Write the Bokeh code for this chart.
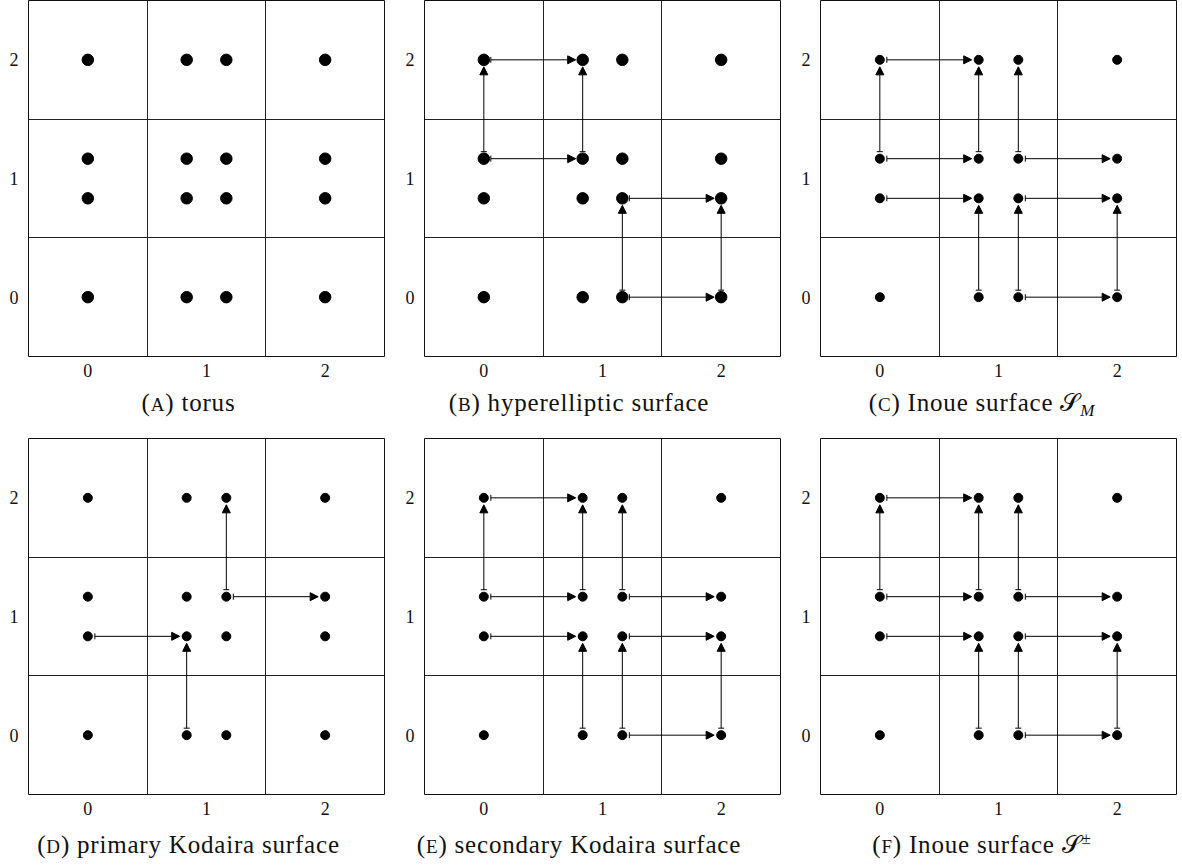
from bokeh.plotting import figure
from bokeh.models import Arrow, NormalHead, TeeHead, ColumnDataSource, FixedTicker, Div
from bokeh.layouts import row, column
from bokeh.embed import file_html
from bokeh.resources import INLINE
import math

# ---- data -------------------------------------------------------------
tick_values = [0, 1, 2]
cell_edges = [0.5, 1.5]

# 16 dots, identical in every panel
dot_x = [0, 0.833, 1.167, 2, 0, 0.833, 1.167, 2, 0, 0.833, 1.167, 2, 0, 0.833, 1.167, 2]
dot_y = [0, 0, 0, 0, 0.833, 0.833, 0.833, 0.833, 1.167, 1.167, 1.167, 1.167, 2, 2, 2, 2]

# arrows: (from_x, from_y, to_x, to_y)
arrows_a = []
arrows_b = [
    (0, 2, 0.833, 2), (0, 1.167, 0.833, 1.167), (1.167, 0.833, 2, 0.833), (1.167, 0, 2, 0),
    (0, 1.167, 0, 2), (0.833, 1.167, 0.833, 2), (1.167, 0, 1.167, 0.833), (2, 0, 2, 0.833),
]
arrows_c = [
    (0, 2, 0.833, 2), (0, 1.167, 0.833, 1.167), (1.167, 1.167, 2, 1.167),
    (0, 0.833, 0.833, 0.833), (1.167, 0.833, 2, 0.833), (1.167, 0, 2, 0),
    (0, 1.167, 0, 2), (0.833, 1.167, 0.833, 2), (1.167, 1.167, 1.167, 2),
    (0.833, 0, 0.833, 0.833), (1.167, 0, 1.167, 0.833), (2, 0, 2, 0.833),
]
arrows_d = [
    (0, 0.833, 0.833, 0.833), (1.167, 1.167, 2, 1.167),
    (0.833, 0, 0.833, 0.833), (1.167, 1.167, 1.167, 2),
]
arrows_e = list(arrows_c)
arrows_f = list(arrows_c)

SC = "<span style='font-size:76%'>{}</span>"
SUB = "<span style='font-size:68%; vertical-align:-0.3em; line-height:0'>{}</span>"
SUP = "<span style='font-size:68%; vertical-align:0.55em; line-height:0'>{}</span>"
captions = [
    "(" + SC.format("A") + ") torus",
    "(" + SC.format("B") + ") hyperelliptic surface",
    "(" + SC.format("C") + ") Inoue surface \U0001D4AE" + SUB.format("<i>M</i>"),
    "(" + SC.format("D") + ") primary Kodaira surface",
    "(" + SC.format("E") + ") secondary Kodaira surface",
    "(" + SC.format("F") + ") Inoue surface \U0001D4AE" + SUP.format("\u00b1"),
]

FONT = "Liberation Serif"
FRAME = 356
PX_PER_UNIT = FRAME / 3.0
OFF = 7.0 / PX_PER_UNIT

left_borders = [28, 20, 20]
right_borders = [18, 18, 3]
caption_widths = [377, 354, 368]


def make_panel(arrows, dot_size, top_border, left_border, right_border):
    p = figure(frame_width=FRAME, frame_height=FRAME, x_range=(-0.5, 2.5), y_range=(-0.5, 2.5),
               output_backend="svg", toolbar_location=None,
               min_border_left=left_border, min_border_right=right_border,
               min_border_top=top_border, min_border_bottom=28)
    p.background_fill_color = "white"
    p.border_fill_color = "white"
    p.outline_line_color = "#111111"
    p.outline_line_width = 1
    for ax in (p.xaxis, p.yaxis):
        ax.ticker = FixedTicker(ticks=tick_values)
        ax.axis_line_color = None
        ax.major_tick_line_color = None
        ax.minor_tick_line_color = None
        ax.major_tick_out = 0
        ax.major_tick_in = 0
        ax.major_label_text_font = FONT
        ax.major_label_text_font_size = "18px"
        ax.major_label_text_color = "#111111"
    p.xaxis.major_label_standoff = 7
    p.yaxis.major_label_standoff = 10
    for g in (p.xgrid, p.ygrid):
        g.ticker = FixedTicker(ticks=cell_edges)
        g.grid_line_color = "#222222"
        g.grid_line_width = 1
    p.scatter(dot_x, dot_y, size=dot_size, color="black")
    if arrows:
        x0s, y0s, x1s, y1s = [], [], [], []
        for (ax0, ay0, ax1, ay1) in arrows:
            dx, dy = ax1 - ax0, ay1 - ay0
            n = math.hypot(dx, dy)
            ux, uy = dx / n, dy / n
            x0s.append(ax0 + ux * OFF)
            y0s.append(ay0 + uy * OFF)
            x1s.append(ax1 - ux * OFF)
            y1s.append(ay1 - uy * OFF)
        src = ColumnDataSource(dict(x0=x0s, y0=y0s, x1=x1s, y1=y1s))
        p.add_layout(Arrow(start=TeeHead(size=6, line_width=1, line_color="black"),
                           end=NormalHead(size=8, fill_color="black", line_color="black", line_width=1),
                           x_start="x0", y_start="y0", x_end="x1", y_end="y1",
                           line_width=1, line_color="black", source=src))
    return p


def make_caption(html, pad_top, height, text_width):
    style = ("display:block; width:%dpx; text-align:center; "
             "font-family:'Liberation Serif','DejaVu Serif','DejaVu Sans',serif; "
             "font-size:25px; line-height:29px; letter-spacing:0.8px; color:#111; "
             "white-space:nowrap; padding-top:%dpx; margin:0;") % (text_width, pad_top)
    return Div(text="<div style=\"%s\">%s</div>" % (style, html),
               width=text_width, height=height, margin=(0, 0, 0, 0))


all_arrows = [arrows_a, arrows_b, arrows_c, arrows_d, arrows_e, arrows_f]
dot_sizes = [11.5, 11.5, 9, 9, 9, 9]

cols = []
for i in range(6):
    c = i % 3
    top_row = i < 3
    p = make_panel(all_arrows[i], dot_sizes[i], 0 if top_row else 14, left_borders[c], right_borders[c])
    cap = make_caption(captions[i], 4 if top_row else 8, 40 if top_row else 38, caption_widths[c])
    cols.append(column(p, cap))

layout = column(row(*cols[:3]), row(*cols[3:]))
open("out.html", "w").write(file_html(layout, INLINE))
